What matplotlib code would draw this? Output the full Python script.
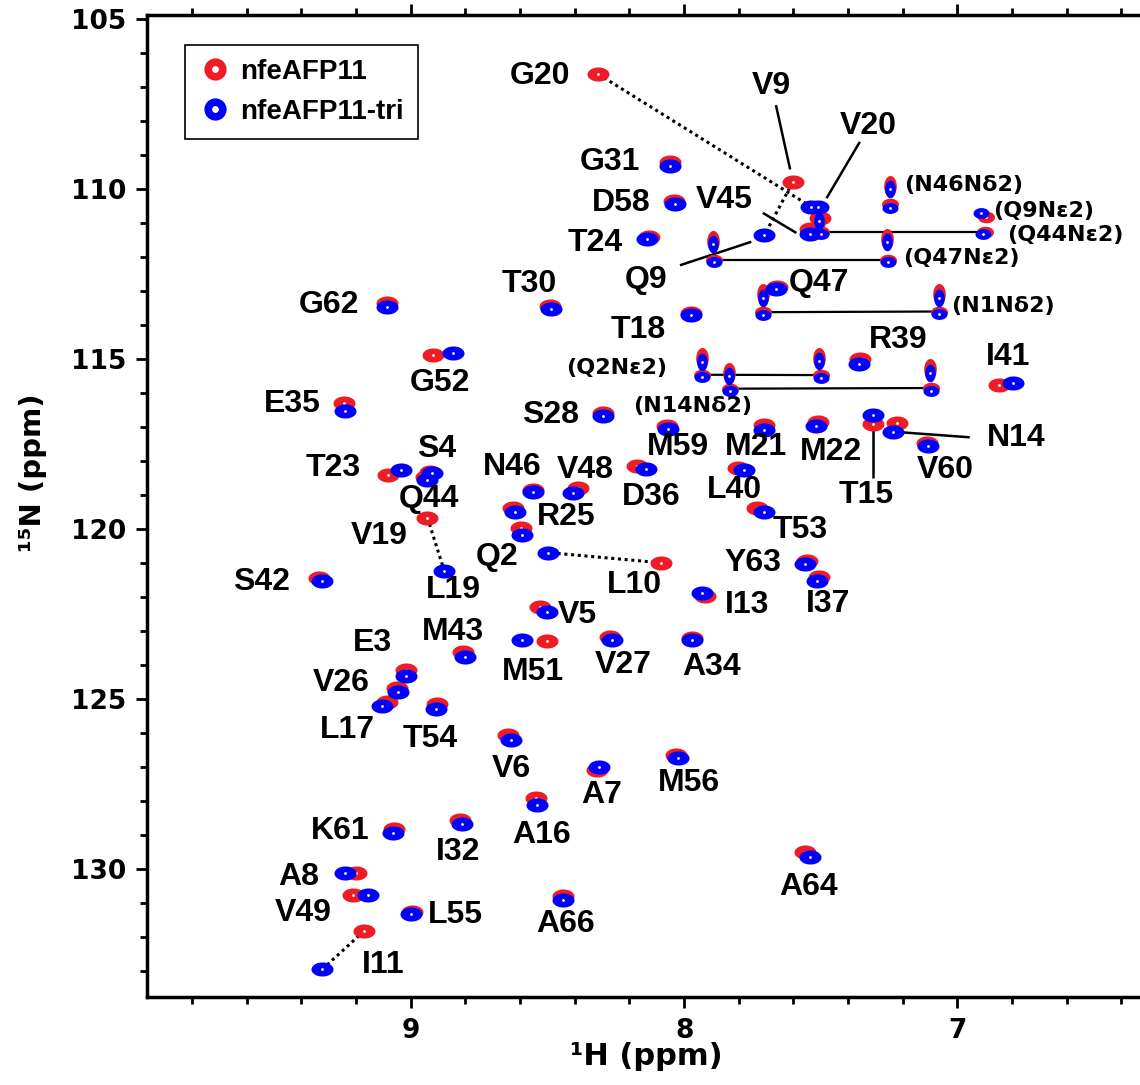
import numpy as np
import matplotlib
matplotlib.use("Agg")
import matplotlib.pyplot as plt
from matplotlib.path import Path
from matplotlib.lines import Line2D
from matplotlib.ticker import MultipleLocator, FixedLocator

# ---------------- data (ppm) ----------------
# backbone amide peaks: nfeAFP11 (wt, red) and nfeAFP11-tri (blue)
peak_ids = ["G20", "G31", "D58", "T24", "V9", "V20", "V45", "T30", "G62", "Q47",
            "T18", "R39", "I41", "G52", "E35", "S28", "M59", "M21", "M22", "T15",
            "N14", "V60", "T23", "S4", "Q44", "N46", "V48", "D36", "L40", "T53",
            "L19", "R25", "R25b", "L10", "Y63", "I37", "I13", "S42", "V5", "M51",
            "V27", "A34", "M43", "E3", "V26", "L17", "T54", "V6", "A7", "M56",
            "A16", "K61", "I32", "A8", "V49", "L55", "A66", "A64", "I11"]
h_wt = [8.314, 8.050, 8.036, 8.130, 7.602, 7.502, 7.540, 8.490, 9.088, 7.660,
        7.974, 7.357, 6.849, 8.917, 9.243, 8.298, 8.061, 7.708, 7.510, 7.309,
        7.221, 7.110, 9.085, 8.929, 8.945, 8.554, 8.389, 8.174, 7.802, 7.733,
        8.939, 8.627, 8.598, 8.084, 7.551, 7.505, 7.923, 9.334, 8.527, 8.502,
        8.271, 7.970, 8.808, 9.018, 9.049, 9.088, 8.905, 8.643, 8.319, 8.029,
        8.542, 9.061, 8.820, 9.200, 9.210, 8.996, 8.442, 7.557, 9.171]
n_wt = [106.62, 109.20, 110.34, 111.42, 109.79, 110.86, 111.16, 113.44, 113.34, 112.89,
        113.64, 115.01, 115.76, 114.88, 116.29, 116.58, 116.97, 116.94, 116.84, 116.91,
        116.87, 117.46, 118.41, 118.31, 118.48, 118.85, 118.80, 118.14, 118.20, 119.39,
        119.66, 119.39, 119.98, 120.99, 120.93, 121.42, 121.97, 121.45, 122.28, 123.29,
        123.17, 123.19, 123.61, 124.15, 124.67, 125.08, 125.13, 126.06, 127.07, 126.65,
        127.92, 128.81, 128.56, 130.11, 130.76, 131.26, 130.79, 129.49, 131.82]
h_tri = [7.535, 8.050, 8.032, 8.135, 7.706, 7.510, 7.540, 8.487, 9.088, 7.664,
         7.974, 7.361, 6.797, 8.846, 9.240, 8.298, 8.059, 7.706, 7.516, 7.309,
         7.237, 7.107, 9.035, 8.923, 8.941, 8.551, 8.405, 8.139, 7.781, 7.706,
         8.877, 8.618, 8.594, 8.497, 7.557, 7.514, 7.933, 9.323, 8.502, 8.594,
         8.262, 7.970, 8.801, 9.018, 9.045, 9.106, 8.909, 8.633, 8.313, 8.023,
         8.539, 9.065, 8.813, 9.240, 9.157, 8.999, 8.444, 7.539, 9.323]
n_tri = [110.52, 109.32, 110.44, 111.48, 111.35, 110.52, 111.32, 113.54, 113.46, 112.95,
         113.70, 115.15, 115.71, 114.81, 116.53, 116.68, 117.07, 117.09, 116.97, 116.65,
         117.14, 117.56, 118.26, 118.34, 118.56, 118.90, 118.95, 118.22, 118.26, 119.49,
         121.24, 119.51, 120.16, 120.69, 121.04, 121.52, 121.87, 121.53, 122.43, 123.26,
         123.26, 123.26, 123.77, 124.32, 124.78, 125.21, 125.30, 126.21, 127.01, 126.74,
         128.12, 128.95, 128.68, 130.11, 130.76, 131.32, 130.91, 129.64, 132.94]
# peaks whose wt and tri positions are joined by a dotted line
shifted_ids = ["G20", "V9", "L19", "L10", "I11"]

# side-chain NH2 peaks: elongated upper components
sc_up_h_wt = [7.245, 7.896, 7.258, 7.712, 7.069, 7.933, 7.506, 7.837, 7.100, 7.505]
sc_up_n_wt = [109.90, 111.52, 111.47, 113.08, 113.08, 114.97, 114.97, 115.42, 115.30, 110.95]
sc_up_h_tri = [7.245, 7.896, 7.258, 7.712, 7.069, 7.933, 7.506, 7.837, 7.100, 7.505]
sc_up_n_tri = [110.00, 111.62, 111.57, 113.20, 113.20, 115.08, 115.06, 115.50, 115.42, 110.95]
# side-chain NH2 peaks: lower components
sc_lo_ids = ["N46", "Q9", "Q44a", "Q44b", "Q47a", "Q47b", "N1a", "N1b",
             "Q2a", "Q2b", "N14a", "N14b"]
sc_lo_h_wt = [7.245, 6.894, 7.499, 6.900, 7.889, 7.255, 7.710, 7.066, 7.933, 7.499, 7.832, 7.097]
sc_lo_n_wt = [110.45, 110.82, 111.26, 111.26, 112.08, 112.08, 113.62, 113.60, 115.46, 115.47, 115.87, 115.85]
sc_lo_h_tri = [7.245, 6.915, 7.499, 6.907, 7.889, 7.255, 7.710, 7.066, 7.933, 7.499, 7.832, 7.097]
sc_lo_n_tri = [110.55, 110.71, 111.32, 111.32, 112.15, 112.15, 113.70, 113.68, 115.54, 115.55, 115.94, 115.93]
sc_pairs = [("Q44a", "Q44b"), ("Q47a", "Q47b"), ("N1a", "N1b"), ("Q2a", "Q2b"), ("N14a", "N14b")]

# residue labels
label_text = ["G20", "V9", "V20", "G31", "D58", "V45", "T24", "Q9", "T30", "G62",
              "Q47", "T18", "R39", "I41", "G52", "E35", "S28", "M59", "M21", "M22",
              "N14", "T23", "S4", "N46", "V48", "D36", "L40", "V60", "T15", "Q44",
              "V19", "R25", "T53", "Q2", "Y63", "L10", "L19", "S42", "I13", "I37",
              "V5", "M43", "E3", "M51", "V27", "A34", "V26", "L17", "T54", "V6",
              "A7", "M56", "A16", "K61", "I32", "A8", "A64", "V49", "L55", "A66", "I11"]
label_h = [8.527, 7.681, 7.327, 8.270, 8.229, 7.854, 8.325, 8.139, 8.567, 9.298,
           7.506, 8.167, 7.217, 6.814, 8.893, 9.435, 8.490, 8.022, 7.736, 7.461,
           6.786, 9.285, 8.905, 8.630, 8.360, 8.122, 7.816, 7.045, 7.334, 8.932,
           9.115, 8.432, 7.575, 8.685, 7.749, 8.183, 8.844, 9.545, 7.771, 7.472,
           8.390, 8.844, 9.139, 8.554, 8.222, 7.901, 9.256, 9.231, 8.929, 8.633,
           8.301, 7.982, 8.521, 9.259, 8.827, 9.409, 7.545, 9.393, 8.836, 8.435, 9.102]
label_n = [106.68, 106.97, 108.15, 109.20, 110.40, 110.32, 111.58, 112.66, 112.79, 113.41,
           112.77, 114.15, 114.44, 114.93, 115.70, 116.32, 116.63, 117.58, 117.58, 117.73,
           117.33, 118.21, 117.63, 118.17, 118.26, 119.05, 118.85, 118.26, 119.00, 119.10,
           120.21, 119.64, 120.03, 120.82, 121.01, 121.65, 121.79, 121.55, 122.24, 122.19,
           122.53, 123.02, 123.36, 124.20, 124.00, 124.05, 124.54, 125.91, 126.16, 127.04,
           127.82, 127.48, 129.00, 128.87, 129.49, 130.23, 130.52, 131.30, 131.35, 131.62, 132.82]
sc_label_text = ["(N46Nδ2)", "(Q9Nε2)", "(Q44Nε2)", "(Q47Nε2)", "(N1Nδ2)", "(Q2Nε2)", "(N14Nδ2)"]
sc_label_h = [6.979, 6.684, 6.607, 6.987, 6.832, 8.245, 7.967]
sc_label_n = [109.88, 110.65, 111.35, 112.04, 113.44, 115.27, 116.38]
# leader lines from label to peak: (H1, N1, H2, N2)
leader_lines = [(7.664, 107.53, 7.612, 109.42),   # V9
                (7.357, 108.61, 7.479, 110.27),   # V20
                (7.712, 110.70, 7.589, 111.29),   # V45
                (8.015, 112.24, 7.754, 111.55),   # Q9
                (7.309, 116.70, 7.309, 118.51),   # T15
                (7.227, 117.14, 6.955, 117.30)]   # N14

series_names = ["nfeAFP11", "nfeAFP11-tri"]

# ---------------- styling ----------------
RED = "#ee1c25"
BLUE = "#0000ff"
LABEL_FONT = "Liberation Sans"
TICK_FONT = "DejaVu Sans"


def ellipse(rx, ry, n=73):
    t = np.linspace(0, 2 * np.pi, n)
    return Path(np.column_stack([rx * np.cos(t), ry * np.sin(t)]))


m_wide = ellipse(1.0, 0.64)
m_tall = ellipse(0.6, 1.0)
m_low = ellipse(1.0, 0.68)

fig = plt.figure(figsize=(11.4, 10.85), dpi=100)
fig.patch.set_facecolor("white")
ax = fig.add_axes([147 / 1140, 1 - 997 / 1085, (1140 - 147) / 1140, (997 - 15) / 1085])

ax.set_xlim(9.965, 6.332)
ax.set_ylim(133.76, 104.88)

idx = {p: i for i, p in enumerate(peak_ids)}
lo_idx = {p: i for i, p in enumerate(sc_lo_ids)}

# dotted connectors
for p in shifted_ids:
    i = idx[p]
    ax.plot([h_wt[i], h_tri[i]], [n_wt[i], n_tri[i]], color="black",
            linestyle=(0, (1, 1.2)), linewidth=2.2, zorder=2)
# NH2 pair connectors
for a, b in sc_pairs:
    ia, ib = lo_idx[a], lo_idx[b]
    ax.plot([sc_lo_h_wt[ia], sc_lo_h_wt[ib]], [sc_lo_n_wt[ia], sc_lo_n_wt[ib]],
            color="black", linewidth=1.6, zorder=2)
# leader lines
for h1, n1, h2, n2 in leader_lines:
    ax.plot([h1, h2], [n1, n2], color="black", linewidth=1.8, zorder=2,
            solid_capstyle="butt")

# red peaks
ax.scatter(h_wt, n_wt, s=251, marker=m_wide, color=RED, linewidths=0, zorder=3)
ax.scatter(sc_up_h_wt, sc_up_n_wt, s=229, marker=m_tall, color=RED, linewidths=0, zorder=3)
ax.scatter(sc_lo_h_wt, sc_lo_n_wt, s=150, marker=m_low, color=RED, linewidths=0, zorder=3)
ax.scatter(h_wt + sc_up_h_wt + sc_lo_h_wt, n_wt + sc_up_n_wt + sc_lo_n_wt, s=4,
           color="white", linewidths=0, zorder=3.5)
# blue peaks
ax.scatter(h_tri, n_tri, s=251, marker=m_wide, color=BLUE, linewidths=0, zorder=4)
ax.scatter(sc_up_h_tri, sc_up_n_tri, s=160, marker=m_tall, color=BLUE, linewidths=0, zorder=4)
ax.scatter(sc_lo_h_tri, sc_lo_n_tri, s=132, marker=m_low, color=BLUE, linewidths=0, zorder=4)
ax.scatter(h_tri + sc_up_h_tri + sc_lo_h_tri, n_tri + sc_up_n_tri + sc_lo_n_tri, s=4,
           color="white", linewidths=0, zorder=4.5)

# labels
for t, h, n in zip(label_text, label_h, label_n):
    ax.text(h, n, t, fontsize=23, fontweight="bold", family=LABEL_FONT,
            ha="center", va="center", zorder=6)
for t, h, n in zip(sc_label_text, sc_label_h, sc_label_n):
    ax.text(h, n, t, fontsize=16, fontweight="bold", family=TICK_FONT,
            ha="center", va="center", zorder=6)

# axes, ticks
ax.xaxis.set_major_locator(FixedLocator([9, 8, 7]))
ax.xaxis.set_minor_locator(MultipleLocator(0.2))
ax.yaxis.set_major_locator(MultipleLocator(5))
ax.yaxis.set_minor_locator(MultipleLocator(1))
ax.set_xticklabels(["9", "8", "7"])
ax.set_yticks([105, 110, 115, 120, 125, 130])
ax.set_yticklabels(["105", "110", "115", "120", "125", "130"])
ax.tick_params(which="both", direction="out", width=2, top=True, right=False, pad=7)
ax.tick_params(which="major", length=8, labelsize=19)
ax.tick_params(which="minor", length=5)
for lab in ax.get_xticklabels() + ax.get_yticklabels():
    lab.set_fontweight("bold")
    lab.set_family(TICK_FONT)
for side in ["left", "bottom", "top"]:
    ax.spines[side].set_linewidth(2.5)
ax.spines["right"].set_visible(False)

fig.text(646 / 1140, 1 - 1042 / 1085, "¹H (ppm)", fontsize=22, fontweight="bold",
         family=TICK_FONT, ha="center", va="top")
fig.text(33 / 1140, 1 - 473 / 1085, "¹⁵N (ppm)", fontsize=21, fontweight="bold",
         family=TICK_FONT, ha="center", va="center", rotation=90)

# legend
handles = [Line2D([], [], linestyle="none", marker="o", markersize=10.5,
                  markerfacecolor="white", markeredgecolor=c, markeredgewidth=5.5)
           for c in (RED, BLUE)]
leg = ax.legend(handles, series_names, loc="upper left", bbox_to_anchor=(0.0383, 0.9695),
                borderaxespad=0, frameon=True, fancybox=False, framealpha=1,
                edgecolor="black", borderpad=0.5, handlelength=1.15, handletextpad=0.35,
                labelspacing=0.5, prop={"family": LABEL_FONT, "weight": "bold", "size": 20})
leg.get_frame().set_linewidth(1.2)
leg.set_zorder(7)

fig.savefig("out.png", dpi=100, facecolor="white")
